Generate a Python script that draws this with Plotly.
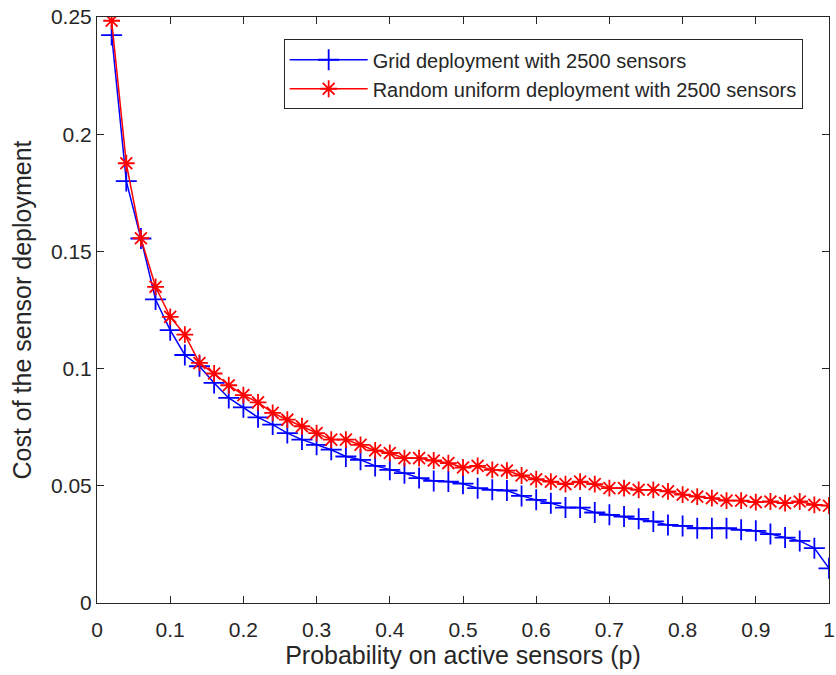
import plotly.graph_objects as go

p = [round(0.02 * i, 2) for i in range(1, 51)]

grid_cost = [0.2423, 0.1800, 0.1555, 0.1295, 0.1164, 0.1058, 0.1010, 0.0939, 0.0875, 0.0835,
             0.0792, 0.0761, 0.0725, 0.0697, 0.0675, 0.0654, 0.0625, 0.0611, 0.0585, 0.0568,
             0.0554, 0.0533, 0.0521, 0.0518, 0.0509, 0.0490, 0.0483, 0.0480, 0.0457, 0.0440,
             0.0426, 0.0407, 0.0407, 0.0386, 0.0376, 0.0369, 0.0359, 0.0348, 0.0333, 0.0329,
             0.0319, 0.0319, 0.0319, 0.0312, 0.0308, 0.0294, 0.0279, 0.0265, 0.0234, 0.0148]

random_cost = [0.2484, 0.1876, 0.1556, 0.1349, 0.1221, 0.1145, 0.1024, 0.0979, 0.0929, 0.0887,
               0.0856, 0.0811, 0.0782, 0.0754, 0.0725, 0.0697, 0.0697, 0.0675, 0.0651, 0.0640,
               0.0618, 0.0618, 0.0608, 0.0597, 0.0578, 0.0585, 0.0568, 0.0565, 0.0544, 0.0528,
               0.0518, 0.0507, 0.0518, 0.0507, 0.0490, 0.0490, 0.0483, 0.0483, 0.0476, 0.0462,
               0.0454, 0.0447, 0.0437, 0.0437, 0.0430, 0.0433, 0.0426, 0.0433, 0.0419, 0.0415]

x_ticks = [0, 0.1, 0.2, 0.3, 0.4, 0.5, 0.6, 0.7, 0.8, 0.9, 1]
x_tick_labels = ["0", "0.1", "0.2", "0.3", "0.4", "0.5", "0.6", "0.7", "0.8", "0.9", "1"]
y_ticks = [0, 0.05, 0.1, 0.15, 0.2, 0.25]
y_tick_labels = ["0", "0.05", "0.1", "0.15", "0.2", "0.25"]

FONT = "Liberation Sans, Arial, sans-serif"
TXT = "#262626"

fig = go.Figure()
fig.add_trace(go.Scatter(
    x=p, y=grid_cost, mode="lines+markers",
    name="Grid deployment with 2500 sensors",
    line=dict(color="#0000ff", width=1.5),
    marker=dict(symbol="cross-thin", size=15, color="#0000ff",
                line=dict(color="#0000ff", width=1.8)),
))
fig.add_trace(go.Scatter(
    x=p, y=random_cost, mode="lines+markers",
    name="Random uniform deployment with 2500 sensors",
    line=dict(color="#ff0000", width=1.5),
    marker=dict(symbol="asterisk-open", size=14, color="#ff0000",
                line=dict(color="#ff0000", width=1.8)),
))

axis_common = dict(
    showgrid=False, zeroline=False, showline=True, linecolor=TXT, linewidth=1,
    mirror="ticks", ticks="inside", ticklen=7, tickcolor=TXT,
    tickfont=dict(family=FONT, size=21, color=TXT),
    ticklabeloverflow="allow",
)

fig.update_layout(
    width=836, height=675,
    margin=dict(l=97, r=1, t=17, b=72),
    paper_bgcolor="white", plot_bgcolor="white",
    font=dict(family=FONT, color=TXT),
    xaxis=dict(range=[0, 1], tickvals=x_ticks, ticktext=x_tick_labels,
               ticklabelstandoff=8,
               title=dict(text="Probability on active sensors (p)",
                          font=dict(family=FONT, size=25, color=TXT), standoff=5),
               **axis_common),
    yaxis=dict(range=[0, 0.25], tickvals=y_ticks, ticktext=y_tick_labels,
               title=dict(text="Cost of the sensor deployment",
                          font=dict(family=FONT, size=25, color=TXT), standoff=12),
               **axis_common),
    legend=dict(x=0.255, y=0.962, xanchor="left", yanchor="top",
                bgcolor="white", bordercolor=TXT, borderwidth=1,
                font=dict(family=FONT, size=20, color=TXT),
                itemwidth=78, tracegroupgap=0),
    showlegend=True,
)

fig.write_html("out.html")
